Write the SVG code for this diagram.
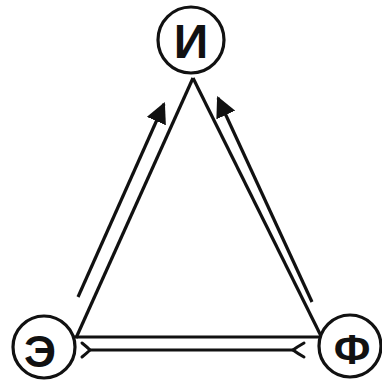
<svg xmlns="http://www.w3.org/2000/svg" width="382" height="383" viewBox="0 0 382 383">
<defs>
<style>
.node circle{fill:#fff;stroke:#111;stroke-width:3.2}
.node text{font-family:"Liberation Sans",Arial,sans-serif;font-weight:bold;fill:#111;text-anchor:middle}
.ln{stroke:#111;stroke-width:3.2;fill:none}
.chev{stroke:#111;stroke-width:3;fill:none;stroke-linecap:round}
</style>
<marker id="ah" viewBox="0 0 10 10" refX="9" refY="5" markerWidth="6.5" markerHeight="6.5" markerUnits="strokeWidth" orient="auto">
<path d="M0,0 L10,5 L0,10 Z" fill="#111"/>
</marker>
</defs>
<rect width="382" height="383" fill="#fff"/>
<g id="connectors">
<line class="ln" x1="193" y1="78" x2="76" y2="338"/>
<line class="ln" x1="193" y1="78" x2="322" y2="338"/>
<line class="ln" x1="74" y1="337" x2="321" y2="337"/>
<line class="ln" x1="78" y1="297" x2="164" y2="104" marker-end="url(#ah)"/>
<line class="ln" x1="312" y1="302" x2="218" y2="98" marker-end="url(#ah)"/>
<line class="ln" x1="90" y1="350" x2="293" y2="350"/>
<path class="chev" d="M82,343 Q87,347 90,350 Q87,353 82,357"/>
<path class="chev" d="M304,343 Q297,347 293,350 Q297,353 304,357"/>
</g>
<g id="node-I" class="node">
<circle cx="191" cy="40" r="33"/>
<text x="191" y="58" font-size="48">И</text>
</g>
<g id="node-E" class="node">
<circle cx="44" cy="347" r="31"/>
<text x="40" y="367" font-size="45">Э</text>
</g>
<g id="node-F" class="node">
<circle cx="350" cy="346" r="31"/>
<text x="352" y="364" font-size="43">Ф</text>
</g>
</svg>
